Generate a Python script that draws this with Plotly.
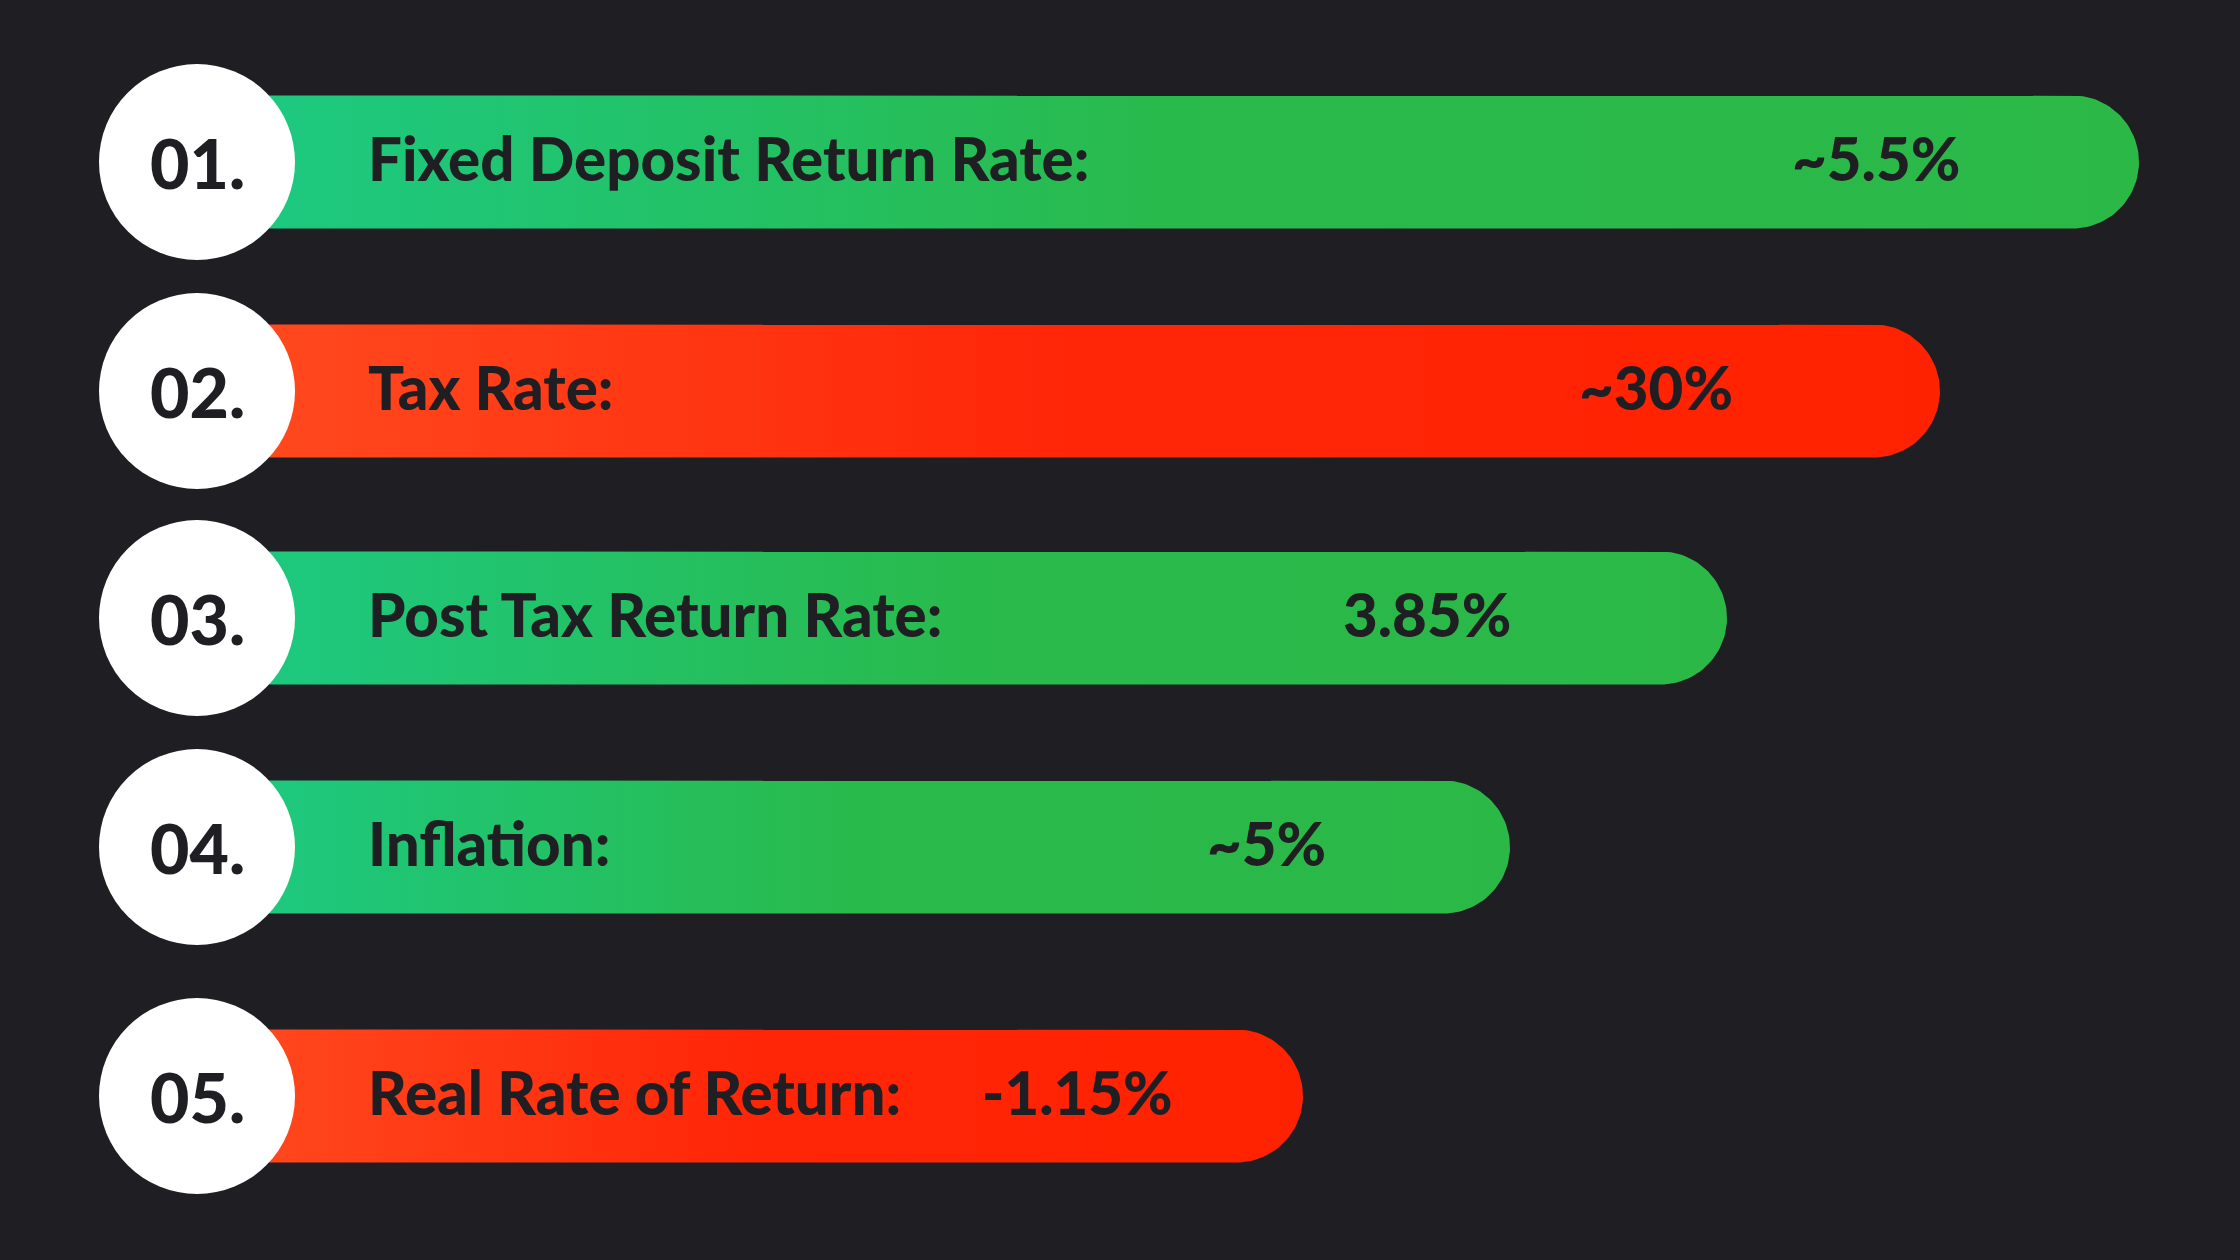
import numpy as np
import plotly.graph_objects as go

# ---- data ----
numbers = ["01.", "02.", "03.", "04.", "05."]
labels = ["Fixed Deposit Return Rate:", "Tax Rate:", "Post Tax Return Rate:", "Inflation:", "Real Rate of Return:"]
values = ["~5.5%", "~30%", "3.85%", "~5%", "-1.15%"]
kinds = ["good", "bad", "good", "good", "bad"]
bar_end = [2139, 1940, 1727, 1510, 1303]       # display length of each pill (axis units)

# ---- layout constants ----
W, H = 2240, 1260
row_y = [162, 391, 618, 847, 1096]
value_x = [1876, 1656, 1427, 1266, 1077]
circle_x = 197
circle_r = 98
bar_start = 200
bar_half = 66.5
label_x = 370
BG = "#1f1e23"
TXT = "#1f1e23"
FONT = "Lato"
gradients = {
    "good": [[0, "#1cca84"], [0.5, "#29ba4c"], [1, "#2bb847"]],
    "bad": [[0, "#ff4b1f"], [0.5, "#ff2608"], [1, "#ff2200"]],
}

fig = go.Figure()

for i in range(len(labels)):
    yc = row_y[i]
    xe = bar_end[i]
    cx = xe - bar_half
    th = np.linspace(-np.pi / 2, np.pi / 2, 60)
    xs = [bar_start, cx] + list(cx + bar_half * np.cos(th)) + [cx, bar_start, bar_start]
    ys = [yc - bar_half, yc - bar_half] + list(yc + bar_half * np.sin(th)) + [yc + bar_half, yc + bar_half, yc - bar_half]
    fig.add_trace(go.Scatter(
        x=xs, y=ys, mode="lines", fill="toself",
        line=dict(width=0),
        fillgradient=dict(type="horizontal", colorscale=gradients[kinds[i]], start=bar_start, stop=xe),
        hoverinfo="skip", showlegend=False,
    ))
    fig.add_shape(type="circle", xref="x", yref="y",
                  x0=circle_x - circle_r, x1=circle_x + circle_r,
                  y0=yc - circle_r, y1=yc + circle_r,
                  fillcolor="white", line=dict(width=0), layer="above")
    fig.add_annotation(x=circle_x, y=yc, text=numbers[i], showarrow=False,
                       xanchor="center", yanchor="middle",
                       font=dict(family=FONT, size=68, color=TXT, weight=900))
    fig.add_annotation(x=label_x - 4, y=yc, yshift=4, text=labels[i], showarrow=False,
                       xanchor="left", yanchor="middle",
                       font=dict(family=FONT, size=60, color=TXT, weight=900))
    fig.add_annotation(x=value_x[i], y=yc, yshift=4, text=values[i], showarrow=False,
                       xanchor="center", yanchor="middle",
                       font=dict(family=FONT, size=60, color=TXT, weight=900))

fig.update_layout(
    width=W, height=H,
    margin=dict(l=0, r=0, t=0, b=0),
    paper_bgcolor=BG, plot_bgcolor=BG,
    xaxis=dict(range=[0, W], visible=False, fixedrange=True),
    yaxis=dict(range=[H, 0], visible=False, fixedrange=True),
    showlegend=False,
)

fig.write_html(
    "out.html",
    config={"displayModeBar": False},
    post_script="document.body.style.margin='0';document.body.style.overflow='hidden';document.body.style.background='#1f1e23';",
)
